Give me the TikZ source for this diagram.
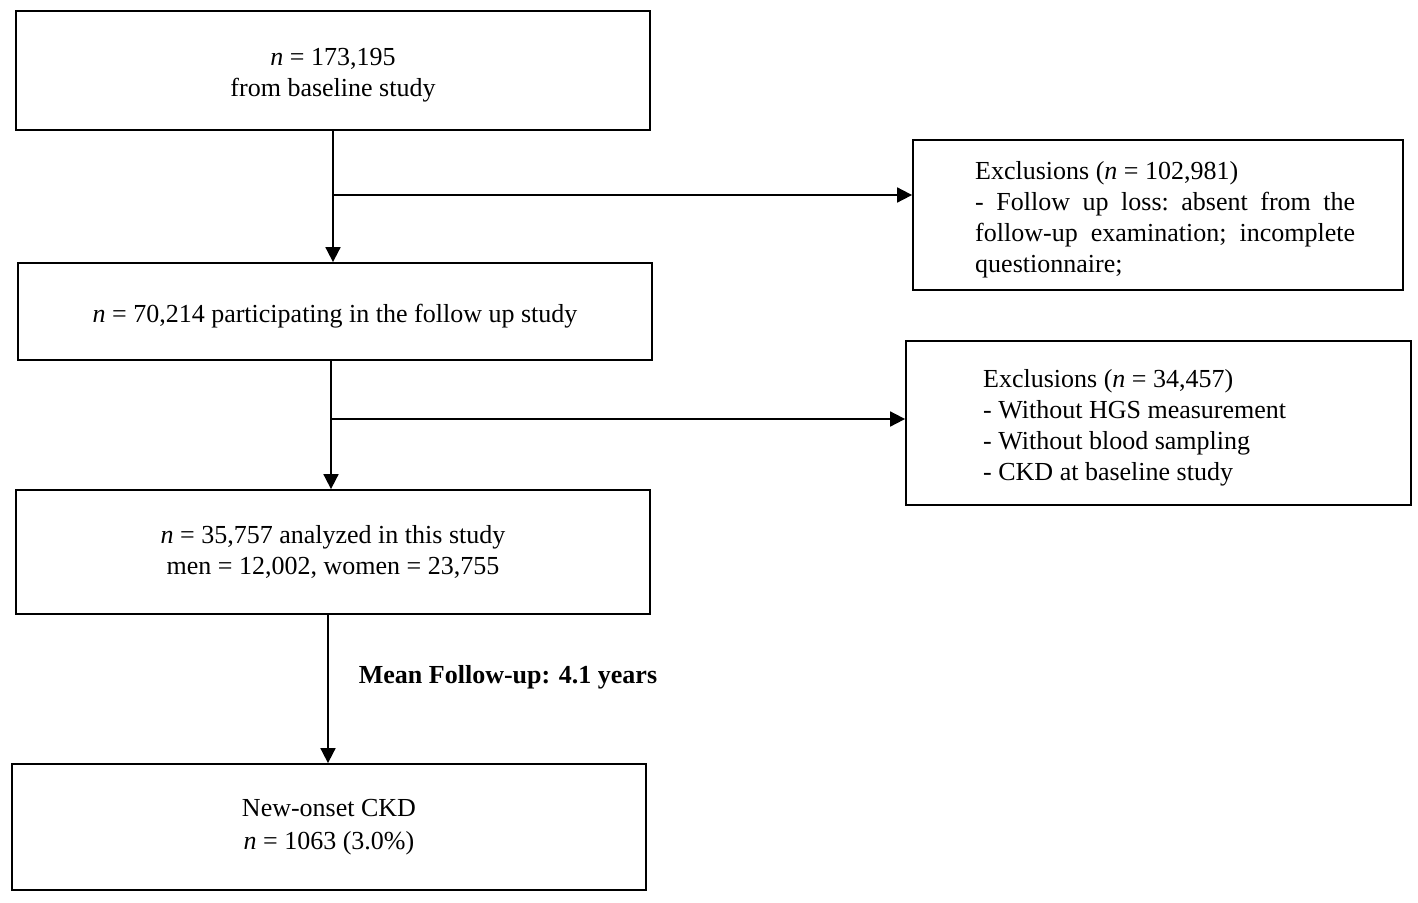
\documentclass[tikz,border=0pt]{standalone}
\usepackage{fontspec}
\setmainfont{Liberation Serif}
\usetikzlibrary{arrows.meta}
\tikzset{
  box/.style={draw=black, line width=1.8pt, rectangle, inner sep=0pt},
  txt/.style={inner sep=0pt, align=center, font=\fontsize{26}{31}\selectfont},
  conn/.style={line width=1.8pt, draw=black},
  arr/.style={conn, -{Triangle[length=15pt,width=15pt]}}
}
\begin{document}
\begin{tikzpicture}[x=1pt,y=-1pt]
\useasboundingbox (0,0) rectangle (1418,902);
% main boxes
\node[box, minimum width=634pt, minimum height=119pt] (b1) at (333,70.5) {};
\node[txt] (b1t) at (333,75.5) {\textit{n} = 173,195\\ from baseline study};
\node[box, minimum width=634pt, minimum height=97pt] (b2) at (335,311.5) {};
\node[txt] (b2t) at (335,316.5) {\textit{n} = 70,214 participating in the follow up study};
\node[box, minimum width=634pt, minimum height=124pt] (b3) at (333,552) {};
\node[txt] (b3t) at (333,552) {\textit{n} = 35,757 analyzed in this study\\ men = 12,002, women = 23,755};
\node[box, minimum width=634pt, minimum height=126pt] (b4) at (329,827) {};
\node[txt] (b4t) at (329,827) {New-onset CKD\\[2pt] \textit{n} = 1063 (3.0\%)};
% exclusion boxes
\node[box, minimum width=490pt, minimum height=150pt] (r1) at (1158,215) {};
\node[txt, anchor=west, align=left] (r1t) at (975,219.5)
  {Exclusions (\textit{n} = 102,981)\\
   \hbox to 380pt{-\hfill Follow\hfill up\hfill loss:\hfill absent\hfill from\hfill the}\\
   \hbox to 380pt{follow-up\hfill examination;\hfill incomplete}\\
   questionnaire;};
\node[box, minimum width=505pt, minimum height=164pt] (r2) at (1158.5,423) {};
\node[txt, anchor=west, align=left] (r2t) at (983,428)
  {Exclusions (\textit{n} = 34,457)\\
   - Without HGS measurement\\
   - Without blood sampling\\
   - CKD at baseline study};
% label
\node[txt, font=\fontsize{26}{31}\selectfont\bfseries] (lab) at (508,677) {Mean Follow-up: 4.1 years};
% connectors
\coordinate (j1) at (333,195);
\coordinate (j2) at (331,419);
\coordinate (j3) at (328,700);
\draw[arr] (b1.south -| j1) -- (b2.north -| j1);
\draw[arr] (j1) -- (r1.west |- j1);
\draw[arr] (b2.south -| j2) -- (b3.north -| j2);
\draw[arr] (j2) -- (r2.west |- j2);
\draw[arr] (b3.south -| j3) -- (b4.north -| j3);
\end{tikzpicture}
\end{document}
